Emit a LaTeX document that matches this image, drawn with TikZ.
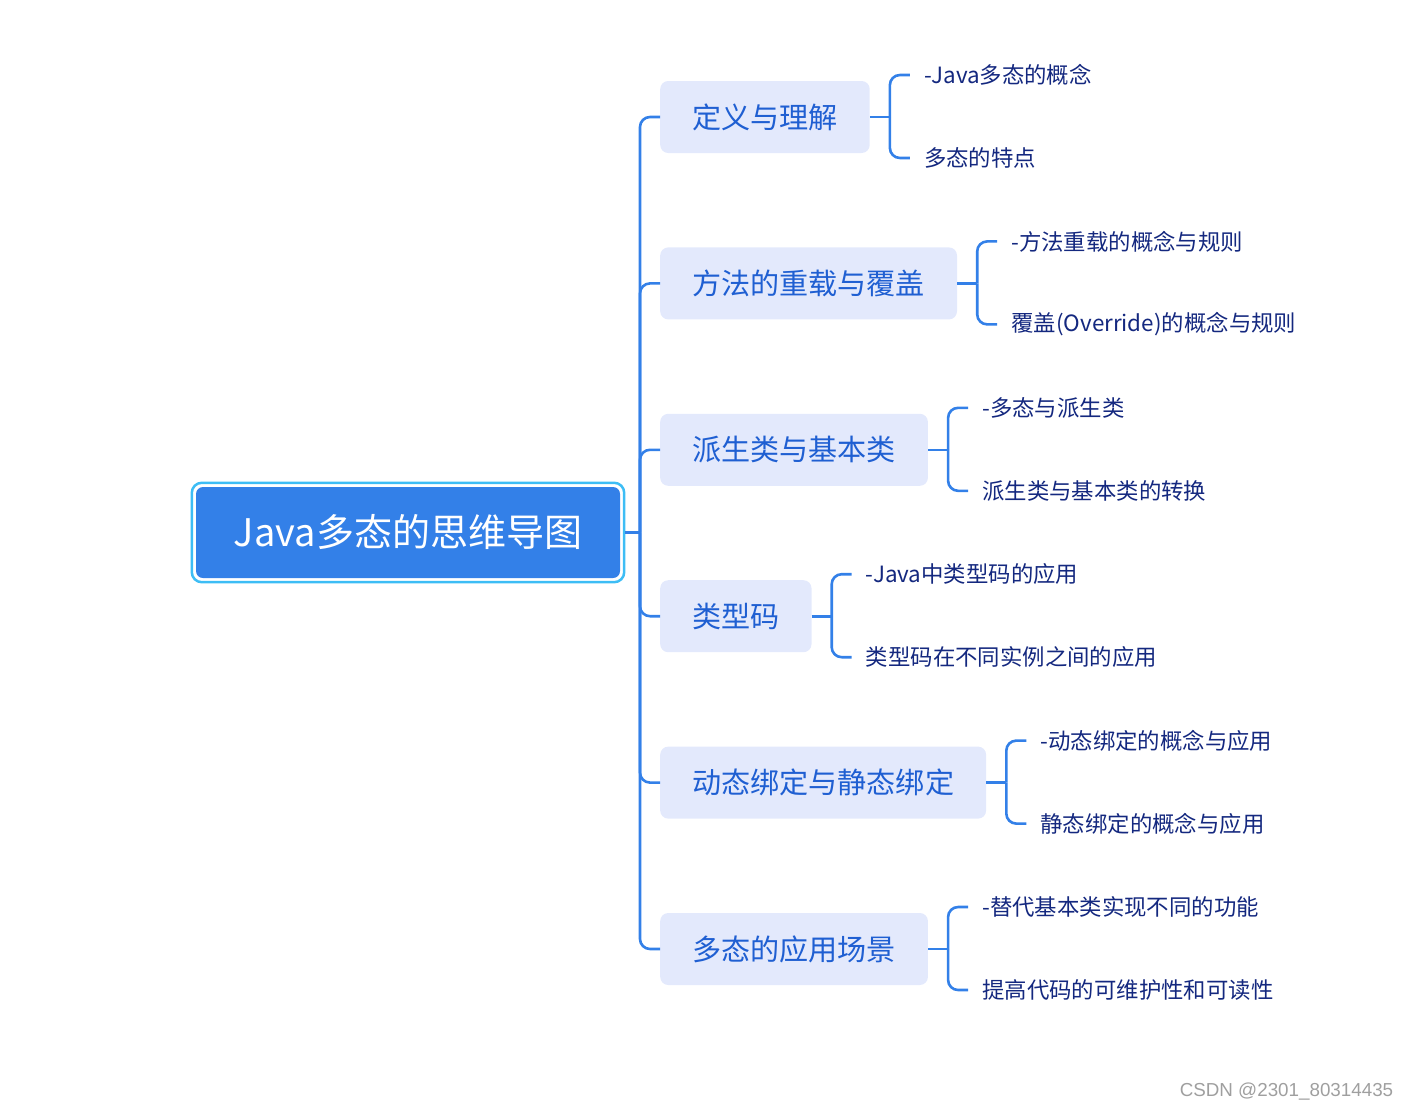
\documentclass[tikz,border=0pt]{standalone}
\usepackage{fontspec}
\setmainfont{Noto Sans CJK SC}
\newfontfamily\wmfont{Liberation Sans}
\usepackage{xcolor}
\usepackage{tikz}
\usetikzlibrary{fit}
\definecolor{linkblue}{HTML}{3380E8}
\definecolor{rootedge}{HTML}{3DBDF5}
\definecolor{boxfill}{HTML}{E3E9FC}
\definecolor{boxtext}{HTML}{1F5FD2}
\definecolor{leaftext}{HTML}{14287F}

\begin{document}
\begin{tikzpicture}[x=1pt, y=1pt,
  root/.style={fill=linkblue, rounded corners=7pt, minimum width=424pt, minimum height=91pt,
    text=white, font=\fontsize{38}{45}\selectfont},
  branch/.style={fill=boxfill, rounded corners=8pt, anchor=west, inner xsep=32pt,
    minimum height=72pt, text=boxtext, font=\fontsize{29.1}{35}\selectfont},
  leaf/.style={anchor=west, inner xsep=14pt, inner ysep=0pt, text=leaftext,
    font=\fontsize{22.4}{27}\selectfont},
  link/.style={draw=linkblue, line width=2.6pt, rounded corners=10pt}]
\useasboundingbox (0,0) rectangle (1408,-1111);
\node[root] (root) at (408,-532.5) {Java多态的思维导图};
\node[draw=rootedge, line width=2.5pt, rounded corners=10pt, inner sep=4pt, fit=(root)] (rootframe) {};
\node[branch] (b1) at (660,-117) {定义与理解};
\node[branch] (b2) at (660,-283.4) {方法的重载与覆盖};
\node[branch] (b3) at (660,-449.8) {派生类与基本类};
\node[branch] (b4) at (660,-616.2) {类型码};
\node[branch] (b5) at (660,-782.6) {动态绑定与静态绑定};
\node[branch] (b6) at (660,-949) {多态的应用场景};
\node[leaf] (l11) at ([xshift=40pt, yshift=42pt]b1.east) {-Java多态的概念};
\node[leaf] (l12) at ([xshift=40pt, yshift=-41pt]b1.east) {多态的特点};
\node[leaf] (l21) at ([xshift=40pt, yshift=42pt]b2.east) {-方法重载的概念与规则};
\node[leaf] (l22) at ([xshift=40pt, yshift=-41pt]b2.east) {覆盖(Override)的概念与规则};
\node[leaf] (l31) at ([xshift=40pt, yshift=42pt]b3.east) {-多态与派生类};
\node[leaf] (l32) at ([xshift=40pt, yshift=-41pt]b3.east) {派生类与基本类的转换};
\node[leaf] (l41) at ([xshift=40pt, yshift=42pt]b4.east) {-Java中类型码的应用};
\node[leaf] (l42) at ([xshift=40pt, yshift=-41pt]b4.east) {类型码在不同实例之间的应用};
\node[leaf] (l51) at ([xshift=40pt, yshift=42pt]b5.east) {-动态绑定的概念与应用};
\node[leaf] (l52) at ([xshift=40pt, yshift=-41pt]b5.east) {静态绑定的概念与应用};
\node[leaf] (l61) at ([xshift=40pt, yshift=42pt]b6.east) {-替代基本类实现不同的功能};
\node[leaf] (l62) at ([xshift=40pt, yshift=-41pt]b6.east) {提高代码的可维护性和可读性};
\node[text=gray!75, font=\wmfont\fontsize{18.8}{22}\selectfont] (wm) at (1286.5,-1092) {CSDN @2301\_80314435};
% trunk from the root to the six branches
\draw[link] (rootframe.east) -- (640,-532.5) coordinate (trunk);
\foreach \b in {b1,b2,b3,b4,b5,b6}
  \draw[link] (trunk) |- (\b.west);
% brackets from each branch to its two leaves
\foreach \b/\u/\d in {b1/l11/l12, b2/l21/l22, b3/l31/l32, b4/l41/l42, b5/l51/l52, b6/l61/l62} {
  \draw[link] (\b.east) -- ++(20,0) coordinate (j\b);
  \draw[link] (j\b) |- (\u.west);
  \draw[link] (j\b) |- (\d.west);
}
\end{tikzpicture}
\end{document}
